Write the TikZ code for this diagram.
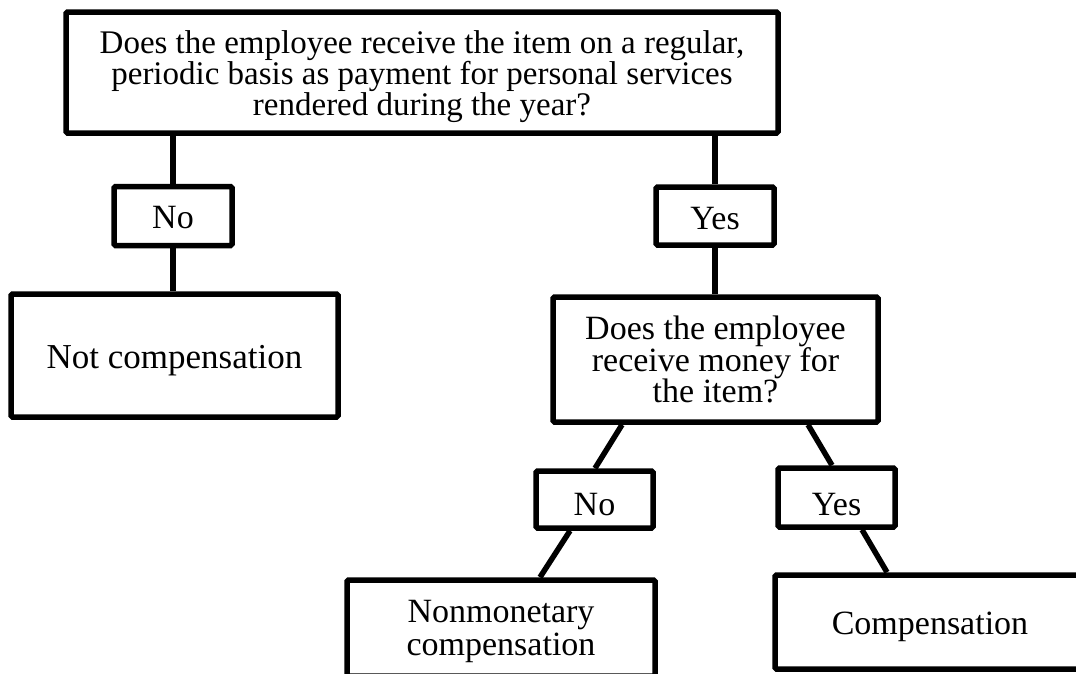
\documentclass[tikz,border=0pt]{standalone}
\usepackage{fontspec}
\setmainfont{Liberation Serif}
\newcommand{\dn}[2]{\raisebox{-#1pt}[\height][\depth]{#2}}
\begin{document}
\begin{tikzpicture}[x=1pt,y=-1pt,
  box/.style={draw,line width=5.5pt,rounded corners=1.5pt,inner sep=0pt,align=center,
    font=\fontsize{34}{31}\selectfont},
  conn/.style={line width=5.5pt}]
\useasboundingbox (0,0) rectangle (1076,673);
\clip (0,0) rectangle (1076,673);
\node[box,minimum width=712pt,minimum height=121pt,font=\fontsize{33}{31}\selectfont] (q1) at (422,72.5)
  {\dn{4}{\parbox{700pt}{\centering Does the employee receive the item on a regular,\\ periodic basis as payment for personal services\\ rendered during the year?}}};
\node[box,minimum width=118pt,minimum height=59pt] (no1) at (173,216) {\dn{2}{No}};
\node[box,minimum width=327pt,minimum height=123pt,font=\fontsize{35}{31}\selectfont] (nc) at (174.5,355.5) {\dn{5}{Not compensation}};
\node[box,minimum width=118pt,minimum height=58pt] (yes1) at (715,216) {\dn{3}{Yes}};
\node[box,minimum width=325pt,minimum height=125pt] (q2) at (715.5,359.5)
  {Does the employee\\ receive money for\\ the item?};
\node[box,minimum width=117pt,minimum height=57pt] (no2) at (594.5,499.5) {\dn{5}{No}};
\node[box,minimum width=117pt,minimum height=59pt] (yes2) at (836.5,497.5) {\dn{7}{Yes}};
\node[box,minimum width=308pt,minimum height=96pt,font=\fontsize{34}{33}\selectfont] (nm) at (501,628)
  {\dn{3}{\parbox{300pt}{\centering Nonmonetary\\ compensation}}};
\node[box,minimum width=310pt,minimum height=94pt] (comp) at (930,622) {\dn{5}{Compensation}};
\draw[conn] (no1.north |- q1.south) -- (no1.north);
\draw[conn] (no1.south) -- (no1.south |- nc.north);
\draw[conn] (yes1.north |- q1.south) -- (yes1.north);
\draw[conn] (yes1.south) -- (yes1.south |- q2.north);
\draw[conn] ([xshift=-93.5pt]q2.south) -- ([xshift=0.5pt]no2.north);
\draw[conn] ([xshift=-24.5pt]no2.south) -- ([xshift=39pt]nm.north);
\draw[conn] ([xshift=92.5pt]q2.south) -- ([xshift=-4.5pt]yes2.north);
\draw[conn] ([xshift=25.5pt]yes2.south) -- ([xshift=-43pt]comp.north);
\end{tikzpicture}
\end{document}
